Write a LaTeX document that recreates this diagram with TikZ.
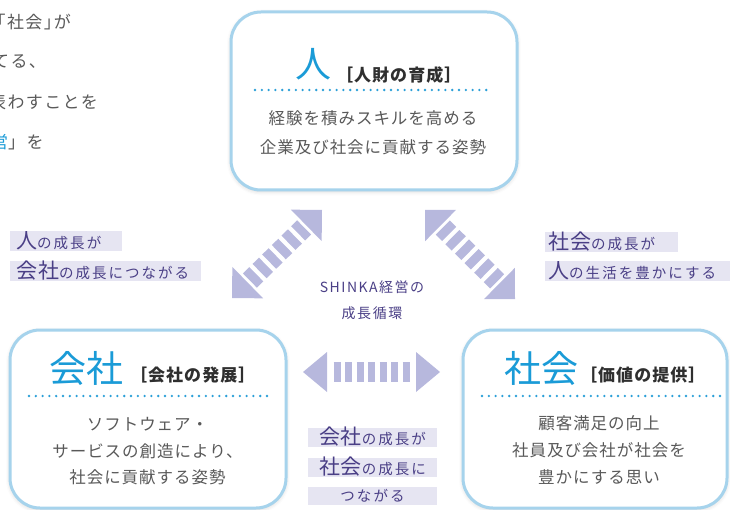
\documentclass[tikz,border=0pt]{standalone}
\usepackage{fontspec}
\setmainfont{Noto Sans CJK JP}
\usetikzlibrary{calc,shadows.blur}
\definecolor{boxc}{HTML}{A6D3EC}
\definecolor{bluec}{HTML}{1A9BD7}
\definecolor{dotc}{HTML}{2A9FD8}
\definecolor{grayc}{HTML}{595959}
\definecolor{darkc}{HTML}{2F2F2F}
\definecolor{purc}{HTML}{4A3F86}
\definecolor{labbg}{HTML}{E6E5F2}
\definecolor{arrowc}{HTML}{B7B8DD}
% striped double block arrow between two named tip coordinates
% #1,#2 tips; #3 head length; #4 half head width; #5 shaft inset; #6 dash pattern
\newcommand{\stripedarrow}[6]{%
  \fill[arrowc] (#1) -- ($(#1)!#3!(#2)!#4!90:(#2)$) -- ($(#1)!#3!(#2)!#4!-90:(#2)$) -- cycle;
  \fill[arrowc] (#2) -- ($(#2)!#3!(#1)!#4!90:(#1)$) -- ($(#2)!#3!(#1)!#4!-90:(#1)$) -- cycle;
  \draw[arrowc, line width=20pt, #6] ($(#1)!#5!(#2)$) -- ($(#2)!#5!(#1)$);
}
\newcommand{\LBig}[1]{{\fontsize{21}{21}\selectfont\addfontfeatures{LetterSpace=4}#1}}
\begin{document}
\begin{tikzpicture}[x=1pt,y=-1pt,
  panel/.style={draw=boxc, line width=3pt, rounded corners=30pt, fill=white, inner sep=0pt,
    blur shadow={shadow xshift=0pt, shadow yshift=-1.5pt, shadow blur radius=4pt, shadow opacity=18}},
  bigchar/.style={text=bluec, inner sep=0pt, font=\fontsize{37}{37}\selectfont},
  tagtxt/.style={text=darkc, inner sep=0pt, anchor=west, font=\bfseries\fontsize{17}{17}\selectfont\addfontfeatures{LetterSpace=6}},
  body/.style={text=grayc, align=center, inner sep=0pt},
  dots/.style={dotc, line width=2.6pt, line cap=round, dash pattern=on 0pt off 6.8pt},
  labbox/.style={fill=labbg, inner sep=0pt, anchor=north west},
  labtxt/.style={text=purc, inner sep=0pt, font=\fontsize{14.5}{14.5}\selectfont\addfontfeatures{LetterSpace=14}},
  intro/.style={text=grayc, inner sep=0pt, anchor=west, font=\fontsize{17}{17}\selectfont\addfontfeatures{LetterSpace=8}}
]
\useasboundingbox (0,0) rectangle (730,510);
\clip (0,0) rectangle (730,510);

% intro text (cut at the left edge, as in the reference)
\node[intro] (in1) at (-11.5,22) {「社会」\kern-7pt が};
\node[intro] (in2) at (-8,62) {てる、};
\node[intro] (in3) at (-11,102) {表わすことを};
\node[intro] (in4) at (-9,142) {{\color{bluec}営}」を};

% panels
\node[panel, minimum width=286pt, minimum height=178pt] (hito) at (374,101) {};
\node[panel, minimum width=276pt, minimum height=178pt] (kaisha) at (148,419) {};
\node[panel, minimum width=264pt, minimum height=178pt] (shakai) at (595,419) {};

% top panel
\node[bigchar, font=\fontsize{36}{36}\selectfont] (hitoC) at (313,64) {人};
\node[tagtxt] (hitoT) at (336,75) {［人財の育成］};
\draw[dots] (255,90) -- (492,90);
\node[body, font=\fontsize{16.5}{29}\selectfont\addfontfeatures{LetterSpace=6}] (hitoB) at (373,132.5)
  {経験を積みスキルを高める\\企業及び社会に貢献する姿勢};

% left panel
\node[bigchar] (kaishaC) at (86.5,368.5) {会社};
\node[tagtxt] (kaishaT) at (130,375.5) {［会社の発展］};
\draw[dots] (29,396) -- (267,396);
\node[body, font=\fontsize{16.5}{26.5}\selectfont\addfontfeatures{LetterSpace=6}] (kaishaB) at (147.5,451.5)
  {ソフトウェア・\\サービスの創造により、\\社会に貢献する姿勢};

% right panel
\node[bigchar] (shakaiC) at (541.5,368.5) {社会};
\node[tagtxt] (shakaiT) at (580,375.5) {［価値の提供］};
\draw[dots] (482,396) -- (720,396);
\node[body, font=\fontsize{16.5}{27}\selectfont\addfontfeatures{LetterSpace=6}] (shakaiB) at (599,450)
  {顧客満足の向上\\社員及び会社が社会を\\豊かにする思い};

% centre caption
\node[text=purc, align=center, inner sep=0pt, font=\fontsize{14}{26}\selectfont\addfontfeatures{LetterSpace=11}] (cyc) at (372,300)
  {SHINKA経営の\\成長循環};

% arrows
\coordinate (lA) at (232,298);
\coordinate (lB) at (322,210);
\coordinate (rA) at (425,210);
\coordinate (rB) at (515,299);
\coordinate (hA) at (303,372);
\coordinate (hB) at (440,372);
\stripedarrow{lA}{lB}{22pt}{22pt}{25pt}{dash pattern=on 9pt off 4.5pt}
\stripedarrow{rA}{rB}{22pt}{22pt}{25pt}{dash pattern=on 9pt off 4.5pt}
\stripedarrow{hA}{hB}{24pt}{20pt}{30.5pt}{dash pattern=on 7pt off 4.5pt}

% labels
\node[labbox, minimum width=112pt, minimum height=20pt] (lab1) at (10,231) {};
\node[labtxt, anchor=west] (lab1t) at (16,240.5) {\LBig{人}の成長が};
\node[labbox, minimum width=191pt, minimum height=20pt] (lab2) at (10,261) {};
\node[labtxt, anchor=west] (lab2t) at (16,270.5) {\LBig{会社}の成長につながる};
\node[labbox, minimum width=133pt, minimum height=20pt] (lab3) at (545,232) {};
\node[labtxt, anchor=west] (lab3t) at (548,241.5) {\LBig{社会}の成長が};
\node[labbox, minimum width=185pt, minimum height=20pt] (lab4) at (545,261) {};
\node[labtxt, anchor=west] (lab4t) at (548,270.5) {\LBig{人}の生活を豊かにする};
\node[labbox, minimum width=129pt, minimum height=19pt] (lab5) at (308,428) {};
\node[labtxt] (lab5t) at (372.5,437) {\LBig{会社}の成長が};
\node[labbox, minimum width=129pt, minimum height=19pt] (lab6) at (308,458) {};
\node[labtxt] (lab6t) at (372.5,467) {\LBig{社会}の成長に};
\node[labbox, minimum width=129pt, minimum height=18pt] (lab7) at (308,487) {};
\node[labtxt] (lab7t) at (372.5,496) {つながる};
\end{tikzpicture}
\end{document}
